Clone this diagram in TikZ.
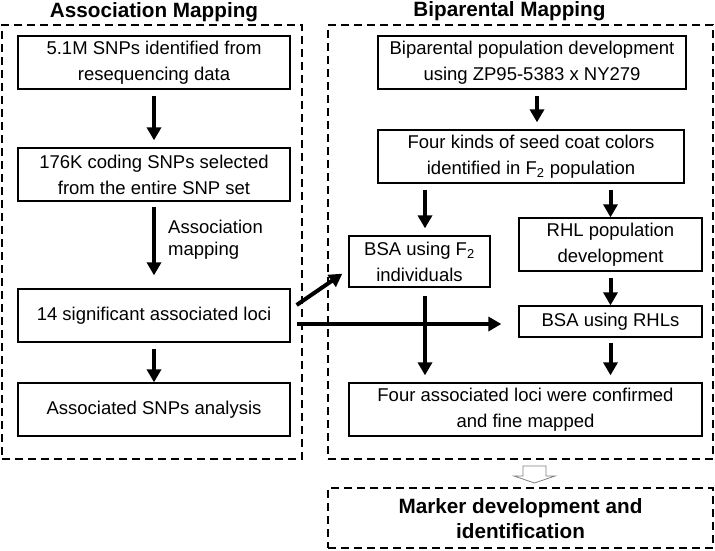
\documentclass[tikz,border=0pt]{standalone}
\usepackage{fontspec}
\setmainfont{Liberation Sans}
\usetikzlibrary{arrows.meta,calc}
\tikzset{
  box/.style={draw, line width=1.3pt, align=center, inner sep=0pt,
    font=\fontsize{18.5}{26}\selectfont},
  dbox/.style={draw, line width=2pt, dash pattern=on 8pt off 5pt, inner sep=0pt},
  ttl/.style={font=\fontsize{20.7}{26}\selectfont\bfseries, align=center, inner sep=0pt},
  lbl/.style={font=\fontsize{18.5}{22.5}\selectfont, align=left, inner sep=0pt},
  arr/.style={line width=4pt, -{Triangle[width=14pt,length=13pt]}},
  hollow/.style={draw=gray, line width=0.8pt, fill=white}
}
\begin{document}
\begin{tikzpicture}[x=1pt,y=-1pt]
\useasboundingbox (0,0) rectangle (715,550);
% dashed frames
\node[dbox, minimum width=300pt, minimum height=434pt] (amf) at (152,242) {};
\node[dbox, minimum width=385pt, minimum height=434pt] (bmf) at (520.5,242) {};
\node[dbox, minimum width=385pt, minimum height=60pt] (mk) at (520.5,518) {};
\node[ttl] (t1) at (154,12) {Association Mapping};
\node[ttl] (t2) at (509.5,11) {Biparental Mapping};
\node[ttl, font=\fontsize{20.7}{25}\selectfont\bfseries] (mkt) at (520.5,519) {Marker development and\\identification};
% association column
\node[box, minimum width=272pt, minimum height=53pt] (a1) at (154,62.5) {5.1M SNPs identified from\\resequencing data};
\node[box, minimum width=272pt, minimum height=53pt] (a2) at (154,174.5) {176K coding SNPs selected\\from the entire SNP set};
\node[box, minimum width=272pt, minimum height=53pt] (a3) at (154,315.5) {14 significant associated loci};
\node[box, minimum width=272pt, minimum height=53pt] (a4) at (154,409.5) {Associated SNPs analysis};
\node[lbl, anchor=west] (al) at (168,239.5) {Association\\mapping};
% biparental column
\node[box, minimum width=308pt, minimum height=53pt] (b1) at (532,62.5) {Biparental population development\\using ZP95-5383 x NY279};
\node[box, minimum width=306pt, minimum height=53pt] (b2) at (531,156.5) {Four kinds of seed coat colors\\identified in F\textsubscript{2} population};
\node[box, minimum width=141pt, minimum height=51pt] (bsaf) at (419.5,261.5) {BSA using F\textsubscript{2}\\individuals};
\node[box, minimum width=183pt, minimum height=53pt] (rhl) at (610.5,244.5) {RHL population\\development};
\node[box, minimum width=183pt, minimum height=31pt] (bsar) at (610.5,321.5) {BSA using RHLs};
\node[box, minimum width=353pt, minimum height=53pt] (four) at (525.5,409.5) {Four associated loci were confirmed\\and fine mapped};
\coordinate (xl) at (425,0);
% arrows
\draw[arr] ($(a1.south)+(0,6)$) -- ($(a2.north)+(0,-7)$);
\draw[arr] ($(a2.south)+(0,5)$) -- ($(a3.north)+(0,-13)$);
\draw[arr] ($(a3.south)+(0,6)$) -- (a4.north);
\draw[arr] ($(b1.south)+(5,6)$) -- ($(b2.north)+(6,-7)$);
\draw[arr] ($(b2.south -| xl)+(0,6)$) -- ($(bsaf.north -| xl)+(0,-7)$);
\draw[arr] ($(b2.south -| rhl)+(0,6)$) -- (rhl.north);
\draw[arr] ($(rhl.south)+(0,6)$) -- (bsar.north);
\draw[arr] ($(bsaf.south -| xl)+(0,8)$) -- ($(four.north -| xl)+(0,-7)$);
\draw[arr] ($(bsar.south)+(0,5)$) -- ($(four.north -| bsar)+(0,-7)$);
\draw[arr] ($(a3.east)+(6,8.5)$) -- ($(bsar.west)+(-17,2.5)$);
\draw[arr] ($(a3.east)+(6,-10.5)$) -- ($(bsaf.south west)+(-6,-14)$);
% hollow arrow
\draw[hollow] (523,466) -- (546,466) -- (546,476) -- (555,476) -- (534.5,483) -- (514,476) -- (523,476) -- cycle;
\end{tikzpicture}
\end{document}
